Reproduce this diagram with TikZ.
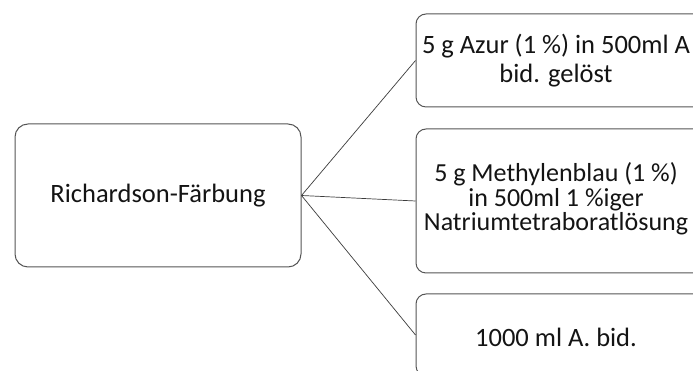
\documentclass[tikz,border=0pt]{standalone}
\usepackage{fontspec}
\setmainfont{Carlito}
\definecolor{bordc}{RGB}{85,85,85}
\definecolor{linec}{RGB}{60,60,60}
\definecolor{txtc}{RGB}{20,20,20}
\begin{document}
\begin{tikzpicture}[x=1pt,y=1pt,
  box/.style={draw=bordc,line width=1pt,rounded corners=10pt,inner sep=0pt,anchor=center},
  lbl/.style={align=center,text=txtc,inner sep=0pt,anchor=center},
  conn/.style={draw=linec,line width=0.7pt}]
\useasboundingbox (0,0) rectangle (693,371);
\clip (0,0) rectangle (693,371);
\fill[white] (0,0) rectangle (693,371);
\node[box,rounded corners=13pt,minimum width=286pt,minimum height=143pt] (main) at (158,175.5) {};
\node[lbl,font=\fontsize{26.5}{30}\selectfont] (maint) at (main.center) {Richardson-Färbung};
\node[box,minimum width=300pt,minimum height=93pt] (b1) at (566,310.5) {};
\node[lbl,font=\fontsize{26.5}{29.5}\selectfont] (b1t) at (556,310.5) {5 g Azur (1 \%) in 500ml A\\bid. gelöst};
\node[box,minimum width=300pt,minimum height=144pt] (b2) at (566,170) {};
\node[lbl,font=\fontsize{26}{24.5}\selectfont] (b2t) at (556,172) {5 g Methylenblau (1 \%)\\in 500ml 1 \%iger\\Natriumtetraboratlösung};
\node[box,minimum width=300pt,minimum height=82pt] (b3) at (566,36) {};
\node[lbl,font=\fontsize{26.5}{30}\selectfont] (b3t) at (556,34) {1000 ml A. bid.};
\draw[conn] (main.east) -- (b1.west);
\draw[conn] (main.east) -- (b2.west);
\draw[conn] (main.east) -- (b3.west);
\end{tikzpicture}
\end{document}
